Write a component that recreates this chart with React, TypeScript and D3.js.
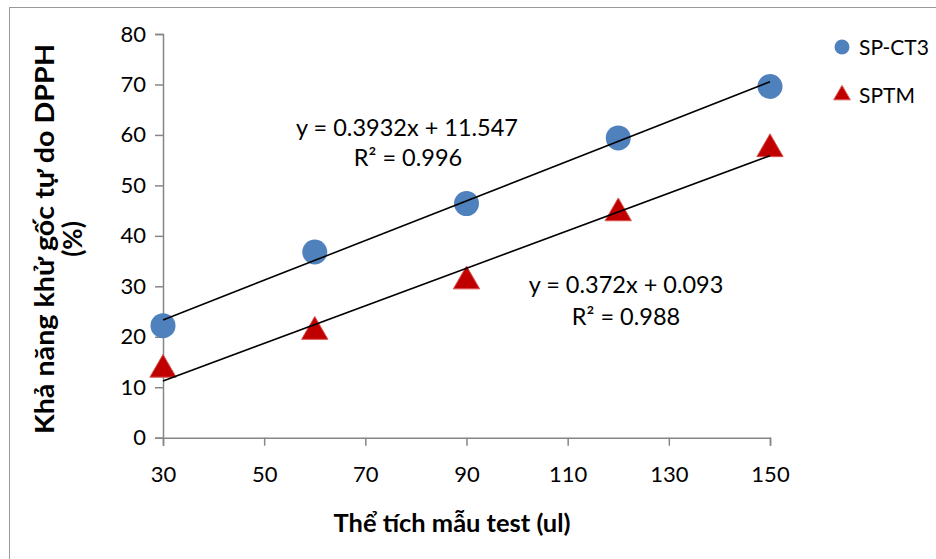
import React, { useEffect, useRef } from 'react';
import * as d3 from 'd3';

const VOLUMES = [30, 60, 90, 120, 150];
const SPCT3 = [22.2, 36.8, 46.4, 59.4, 69.6];
const SPTM = [13.5, 21.0, 31.0, 44.5, 57.2];
const X_TICKS = [30, 50, 70, 90, 110, 130, 150];
const Y_TICKS = [0, 10, 20, 30, 40, 50, 60, 70, 80];
const FIT_CT3 = { slope: 0.3932, intercept: 11.547, eq: 'y = 0.3932x + 11.547', r2: 'R² = 0.996' };
const FIT_TM = { slope: 0.372, intercept: 0.093, eq: 'y = 0.372x + 0.093', r2: 'R² = 0.988' };

const FONT = 'Lato, "Open Sans", sans-serif';

const App = () => {
  const ref = useRef<SVGSVGElement>(null);

  useEffect(() => {
    const svg = d3.select(ref.current);
    svg.selectAll('*').remove();

    const x = d3.scaleLinear().domain([30, 150]).range([163, 770]);
    const y = d3.scaleLinear().domain([0, 80]).range([437.7, 34]);

    // outer frame
    svg.append('rect').attr('x', 9.5).attr('y', 7.5).attr('width', 940).attr('height', 560)
      .attr('fill', 'none').attr('stroke', '#9a9a9a').attr('stroke-width', 1);

    const axisColor = '#868686';

    const yAxis = svg.append('g').attr('transform', `translate(${x(30)},0)`)
      .call(d3.axisLeft(y).tickValues(Y_TICKS).tickSize(8).tickPadding(9));
    const xAxis = svg.append('g').attr('transform', `translate(0,${y(0)})`)
      .call(d3.axisBottom(x).tickValues(X_TICKS).tickSize(8).tickPadding(21));

    [yAxis, xAxis].forEach(g => {
      g.attr('font-family', FONT).attr('font-size', 22);
      g.select('.domain').attr('stroke', axisColor).attr('stroke-width', 1.5);
      g.selectAll('.tick line').attr('stroke', axisColor).attr('stroke-width', 1.5);
      g.selectAll('.tick text').attr('fill', '#000');
    });

    const trend = () => [FIT_CT3, FIT_TM].forEach(f => {
      svg.append('line')
        .attr('x1', x(30)).attr('y1', y(f.slope * 30 + f.intercept))
        .attr('x2', x(150)).attr('y2', y(f.slope * 150 + f.intercept))
        .attr('stroke', '#000').attr('stroke-width', 1.6);
    });

    // circles
    svg.selectAll('circle.ct3').data(VOLUMES).enter().append('circle')
      .attr('class', 'ct3')
      .attr('cx', d => x(d)).attr('cy', (d, i) => y(SPCT3[i])).attr('r', 12.5)
      .attr('fill', '#4F81BD');

    const tri = d3.symbol().type(d3.symbolTriangle).size(300);
    svg.selectAll('path.tm').data(VOLUMES).enter().append('path')
      .attr('class', 'tm')
      .attr('d', tri)
      .attr('transform', (d, i) => `translate(${x(d)},${y(SPTM[i])})`)
      .attr('fill', '#C00000').attr('stroke', '#d9534f').attr('stroke-width', 1);

    // trend lines drawn over the markers
    trend();

    const label = (tx: number, ty: number, txt: string, size = 23.5, weight = 'normal', anchor = 'middle') =>
      svg.append('text').attr('x', tx).attr('y', ty).attr('text-anchor', anchor)
        .style('font-family', FONT).style('font-size', `${size}px`).style('font-weight', weight)
        .attr('fill', '#000').text(txt);

    label(407, 136, FIT_CT3.eq);
    label(408, 166, FIT_CT3.r2);
    label(626, 293, FIT_TM.eq);
    label(626, 325, FIT_TM.r2);

    // axis titles
    label(452, 532, 'Thể tích mẫu test (ul)', 24, 'bold')
      .attr('textLength', 237).attr('lengthAdjust', 'spacingAndGlyphs');
    const yt = svg.append('g').attr('transform', 'translate(0,239) rotate(-90)');
    yt.append('text').attr('x', 0).attr('y', 54).attr('text-anchor', 'middle')
      .attr('textLength', 390).attr('lengthAdjust', 'spacingAndGlyphs')
      .style('font-family', FONT).style('font-size', '26px').style('font-weight', 'bold').text('Khả năng khử gốc tự do DPPH');
    yt.append('text').attr('x', 0).attr('y', 82).attr('text-anchor', 'middle')
      .style('font-family', FONT).style('font-size', '26px').style('font-weight', 'bold').text('(%)');

    // legend
    svg.append('circle').attr('cx', 842).attr('cy', 47).attr('r', 7.5).attr('fill', '#4F81BD');
    label(859, 55, 'SP-CT3', 21, 'normal', 'start');
    svg.append('path').attr('d', d3.symbol().type(d3.symbolTriangle).size(120))
      .attr('transform', 'translate(842,95)').attr('fill', '#C00000').attr('stroke', '#d9534f');
    label(859, 103, 'SPTM', 21, 'normal', 'start');
  }, []);

  return (
    <div className="App">
      <svg ref={ref} width={936} height={559} style={{ position: 'absolute', left: 0, top: 0, background: '#fff' }} />
    </div>
  );
};

export default App;
